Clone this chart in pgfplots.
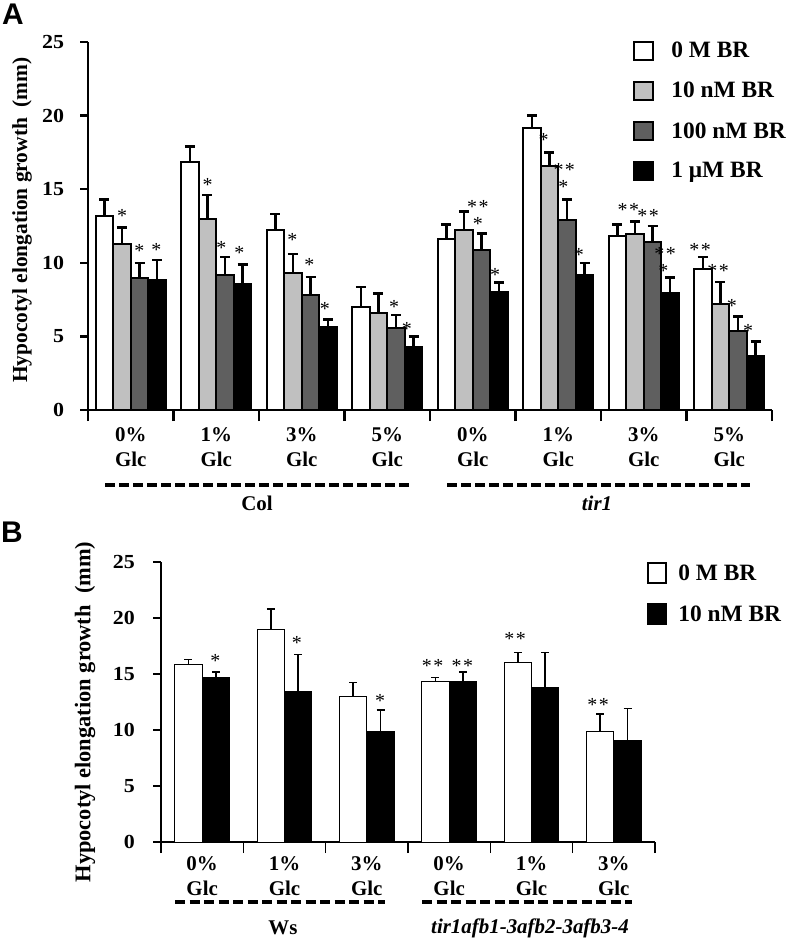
\documentclass[border=0pt]{standalone}
\usepackage{pgfplots}
\pgfplotsset{compat=1.18}
\usepackage{pgfplotstable}
\usepackage{fontspec}
\setmainfont{Liberation Serif}
\newfontfamily\panelfont{Liberation Sans}

\definecolor{lgray}{RGB}{192,192,192}
\definecolor{dgray}{RGB}{95,95,95}

% panel A: Col (0-3) and tir1 (4-7), groups 0/1/3/5% Glc
\pgfplotstableread{
x y e
0 13.2 1.1
1 16.85 1.05
2 12.2 1.1
3 7.0 1.35
4 11.6 1.0
5 19.15 0.85
6 11.8 0.8
7 9.6 0.8
}\Azero
\pgfplotstableread{
x y e
0 11.3 1.1
1 13.0 1.6
2 9.3 1.3
3 6.6 1.3
4 12.2 1.3
5 16.6 0.9
6 11.95 0.85
7 7.2 1.5
}\Aten
\pgfplotstableread{
x y e
0 9.0 1.0
1 9.2 1.2
2 7.8 1.25
3 5.6 0.85
4 10.9 1.1
5 12.9 1.4
6 11.4 1.1
7 5.4 0.95
}\Ahundred
\pgfplotstableread{
x y e
0 8.8 1.4
1 8.55 1.35
2 5.65 0.5
3 4.3 0.7
4 8.0 0.65
5 9.2 0.8
6 7.95 1.05
7 3.67 0.97
}\Aone

% panel B: Ws (0-2) and tir1afb1-3afb2-3afb3-4 (3-5)
\pgfplotstableread{
x y e
0 15.85 0.45
1 18.95 1.85
2 13.0 1.25
3 14.35 0.35
4 16.0 0.9
5 9.9 1.55
}\Bzero
\pgfplotstableread{
x y e
0 14.7 0.5
1 13.4 3.35
2 9.9 1.9
3 14.3 0.9
4 13.8 3.1
5 9.05 2.85
}\Bten

\newcommand\st[3]{\node[font=\fontsize{20}{20}\selectfont, inner sep=0pt, yshift=-3bp] at (axis cs:#1,#2) {#3};}
\newcommand\dst{*\kern1.5bp*}

\pgfplotsset{
  panel/.style={
    scale only axis, anchor=south west,
    ymin=0, ymax=25, ytick={0,5,...,25},
    axis lines*=left, clip=false,
    tick align=outside,
    major x tick style={draw=none},
    major tick length=8bp, minor tick length=11bp,
    /pgf/number format/assume math mode=true,
    yticklabel style={font=\bfseries\fontsize{20}{20}\selectfont, xscale=1.1},
    xticklabel style={align=center, font=\bfseries\fontsize{21}{25}\selectfont},
    error bars/y dir=plus, error bars/y explicit,
    legend cell align=left,
    legend style={draw=none, fill=none, inner sep=0pt, anchor=north west,
      font=\bfseries\fontsize{23.5}{23.5}\selectfont, row sep=19bp,
      nodes={inner xsep=9bp}},
  },
}

\begin{document}
\begin{tikzpicture}
\path[use as bounding box] (0bp,0bp) rectangle (793bp,-939bp);

% ---------------- panel A
\begin{axis}[panel,
  at={(88bp,-410bp)}, width=684bp, height=368bp,
  xmin=-0.5, xmax=7.5, ybar, bar width=0.205,
  xtick={0,...,7}, minor xtick={-0.5,0.5,...,7.5},
  xticklabels={{0\%\\Glc},{1\%\\Glc},{3\%\\Glc},{5\%\\Glc},{0\%\\Glc},{1\%\\Glc},{3\%\\Glc},{5\%\\Glc}},
  xticklabel style={yshift=-6bp},
  yticklabel style={xshift=-11bp},
  axis line style={line width=2.5bp},
  tick style={line width=2.5bp, black},
  error bars/error bar style={line width=2.5bp, black},
  error bars/error mark options={rotate=90, mark size=5bp, line width=2.5bp, black},
  legend style={at={(axis description cs:0.797,1.005)},
    /tikz/every odd column/.append style={column sep=8bp}},
  legend image code/.code={\draw[#1, line width=2bp] (0bp,-9bp) rectangle (19bp,9bp);},
]
\addplot[fill=white, draw=black, line width=2bp, bar shift=-0.3075] table[x=x, y=y, y error=e]{\Azero};
\addplot[fill=lgray, draw=black, line width=2bp, bar shift=-0.1025] table[x=x, y=y, y error=e]{\Aten};
\addplot[fill=dgray, draw=black, line width=2bp, bar shift=0.1025] table[x=x, y=y, y error=e]{\Ahundred};
\addplot[fill=black, draw=black, line width=2bp, bar shift=0.3075] table[x=x, y=y, y error=e]{\Aone};
\legend{0 M BR, 10 nM BR, 100 nM BR, 1 μM BR}
% significance marks
\st{-0.10}{13.4}{*} \st{0.10}{11.0}{*} \st{0.30}{11.05}{*}
\st{0.90}{15.5}{*} \st{1.06}{11.2}{*} \st{1.27}{10.9}{*}
\st{1.89}{11.75}{*} \st{2.09}{10.05}{*} \st{2.27}{7.1}{*}
\st{3.08}{7.2}{*} \st{3.23}{5.7}{*}
\st{4.06}{14.0}{\dst} \st{4.06}{12.85}{*} \st{4.26}{9.4}{*}
\st{4.83}{18.55}{*} \st{5.07}{16.5}{\dst} \st{5.06}{15.35}{*} \st{5.24}{10.75}{*}
\st{5.82}{13.8}{\dst} \st{6.05}{13.4}{\dst} \st{6.25}{10.8}{\dst} \st{6.23}{9.65}{*}
\st{6.66}{11.05}{\dst} \st{6.87}{9.65}{\dst} \st{7.03}{7.27}{*} \st{7.22}{5.6}{*}
\end{axis}

% ---------------- panel B
\begin{axis}[panel,
  at={(161bp,-842bp)}, width=494bp, height=280bp,
  xmin=-0.5, xmax=5.5, ybar, bar width=0.333,
  xtick={0,...,5}, minor xtick={-0.5,0.5,...,5.5},
  xticklabels={{0\%\\Glc},{1\%\\Glc},{3\%\\Glc},{0\%\\Glc},{1\%\\Glc},{3\%\\Glc}},
  xticklabel style={yshift=-3bp},
  yticklabel style={xshift=-13bp},
  axis line style={line width=1.3bp},
  tick style={line width=1.3bp, black},
  error bars/error bar style={line width=1.5bp, black},
  error bars/error mark options={rotate=90, mark size=4bp, line width=1.5bp, black},
  legend style={at={(axis description cs:0.984,1.0)},
    /tikz/every odd column/.append style={column sep=2bp}},
  legend image code/.code={\draw[#1, line width=2bp] (0bp,-10bp) rectangle (18bp,10bp);},
]
\addplot[fill=white, draw=black, line width=1bp, bar shift=-0.1667] table[x=x, y=y, y error=e]{\Bzero};
\addplot[fill=black, draw=black, line width=1bp, bar shift=0.1667] table[x=x, y=y, y error=e]{\Bten};
\legend{0 M BR, 10 nM BR}
\st{0.16}{16.45}{*} \st{1.15}{18.05}{*} \st{2.16}{12.85}{*}
\st{2.80}{16.0}{\dst} \st{3.16}{16.0}{\dst}
\st{3.80}{18.4}{\dst} \st{4.81}{12.5}{\dst}
\end{axis}

% ---------------- labels outside the axes, pixel coordinates
\begin{scope}[x=1bp, y=-1bp]
\node[font=\panelfont\bfseries\fontsize{30}{30}\selectfont] at (13,14) {A};
\node[font=\panelfont\bfseries\fontsize{30}{30}\selectfont] at (12,532) {B};
\node[rotate=90, font=\bfseries\fontsize{21.5}{21.5}\selectfont] at (22,220) {Hypocotyl elongation growth\ \ (mm)};
\node[rotate=90, font=\bfseries\fontsize{22.5}{22.5}\selectfont] at (85,712) {Hypocotyl elongation growth\ \ (mm)};
\draw[line width=4bp, dash pattern=on 9.5bp off 4.5bp] (105,485) -- (410,485);
\draw[line width=4bp, dash pattern=on 9.5bp off 4.5bp] (447,485) -- (750,485);
\node[font=\bfseries\fontsize{21}{21}\selectfont] at (257,503) {Col};
\node[font=\bfseries\itshape\fontsize{21}{21}\selectfont] at (597,503) {tir1};
\draw[line width=4bp, dash pattern=on 10bp off 4.5bp] (175,902) -- (385,902);
\draw[line width=4bp, dash pattern=on 10bp off 4.5bp] (422,902) -- (632,902);
\node[font=\bfseries\fontsize{21}{21}\selectfont] at (283,928) {Ws};
\node[font=\bfseries\itshape\fontsize{21}{21}\selectfont] at (530,928) {tir1afb1-3afb2-3afb3-4};
\end{scope}
\end{tikzpicture}
\end{document}
